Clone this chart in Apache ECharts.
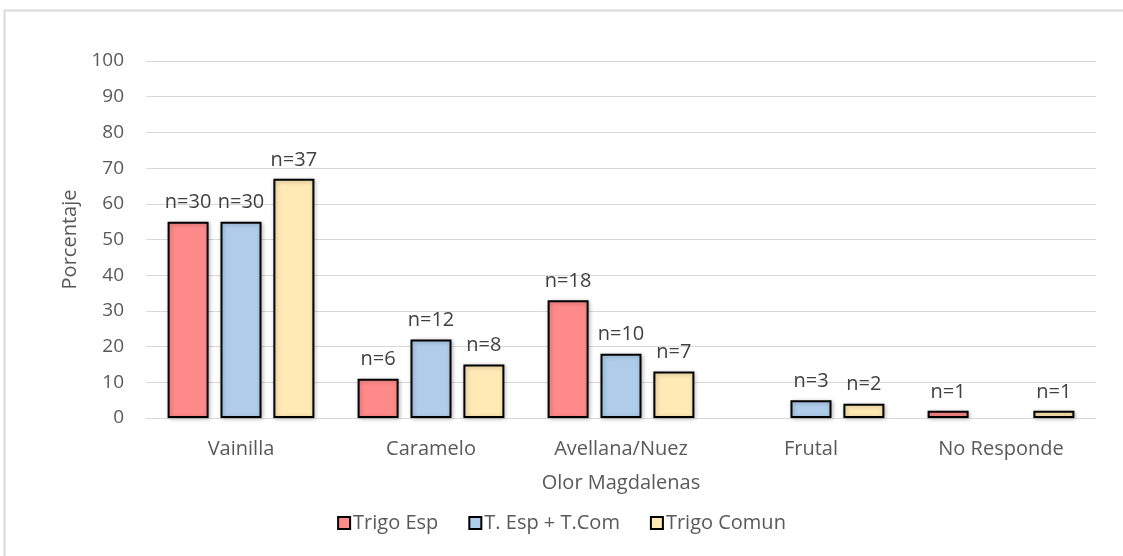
<!DOCTYPE html>
<html><head><meta charset="utf-8">
<script src="https://cdn.jsdelivr.net/npm/echarts@6/dist/echarts.min.js"></script>
<style>html,body{margin:0;padding:0;background:#fff}#c{width:1123px;height:556px}</style>
</head><body><div id="c"></div>
<script>
const categories = ['Vainilla','Caramelo','Avellana/Nuez','Frutal','No Responde'];
const seriesNames = ['Trigo Esp','T. Esp + T.Com','Trigo Comun'];
const trigoEsp = [55, 11, 33, null, 2];
const tEspTCom = [55, 22, 18, 5, null];
const trigoComun = [67, 15, 13, 4, 2];
const nTrigoEsp = ['n=30','n=6','n=18','','n=1'];
const nTEspTCom = ['n=30','n=12','n=10','n=3',''];
const nTrigoComun = ['n=37','n=8','n=7','n=2','n=1'];
const yTicks = [0,10,20,30,40,50,60,70,80,90,100];
const colors = ['#FF8A8A','#AFCDEB','#FFE9B5'];
const FONT = '"Open Sans", "Noto Sans", sans-serif';
const chart = echarts.init(document.getElementById('c'));
function mk(name, data, labels, color){
  return {
    name, type:'bar', data, barWidth:41, barGap:'29%',
    itemStyle:{color, borderColor:'#000', borderWidth:2, shadowColor:'rgba(0,0,0,0.25)', shadowBlur:4, shadowOffsetX:1, shadowOffsetY:1},
    label:{show:true, position:'top', distance:9, color:'#404040', fontSize:20, fontFamily:FONT,
      formatter:p=>labels[p.dataIndex]}
  };
}
chart.setOption({
  animation:false,
  graphic:[{type:'rect', shape:{x:4.5,y:10.5,width:1200,height:600}, style:{fill:null, stroke:'#d9d9d9', lineWidth:2}, silent:true}],
  grid:{left:146, right:27, top:61, bottom:138},
  legend:{bottom:18, left:'center', itemWidth:12, itemHeight:12, itemGap:30,
    icon:'rect', textStyle:{color:'#595959', fontSize:20, fontFamily:FONT, padding:[0,0,0,-2]},
    data:seriesNames.map((n,i)=>({name:n, itemStyle:{color:colors[i], borderColor:'#000', borderWidth:2, shadowBlur:0}}))},
  xAxis:{type:'category', data:categories, name:'Olor Magdalenas', nameLocation:'middle', nameGap:55,
    nameTextStyle:{color:'#595959', fontSize:20, fontFamily:FONT},
    axisLine:{lineStyle:{color:'#d9d9d9'}}, axisTick:{show:false},
    axisLabel:{color:'#595959', fontSize:20, fontFamily:FONT, margin:21}},
  yAxis:{type:'value', min:0, max:100, interval:10, name:'Porcentaje', nameLocation:'middle', nameGap:65,
    nameTextStyle:{color:'#595959', fontSize:20, fontFamily:FONT},
    axisLine:{show:false}, axisTick:{show:false},
    axisLabel:{color:'#595959', fontSize:19, fontFamily:FONT, margin:22, formatter:v=>yTicks.includes(v)?String(v):''},
    splitLine:{lineStyle:{color:'#d9d9d9'}}},
  series:[mk(seriesNames[0],trigoEsp,nTrigoEsp,colors[0]), mk(seriesNames[1],tEspTCom,nTEspTCom,colors[1]), mk(seriesNames[2],trigoComun,nTrigoComun,colors[2])]
});
</script></body></html>
